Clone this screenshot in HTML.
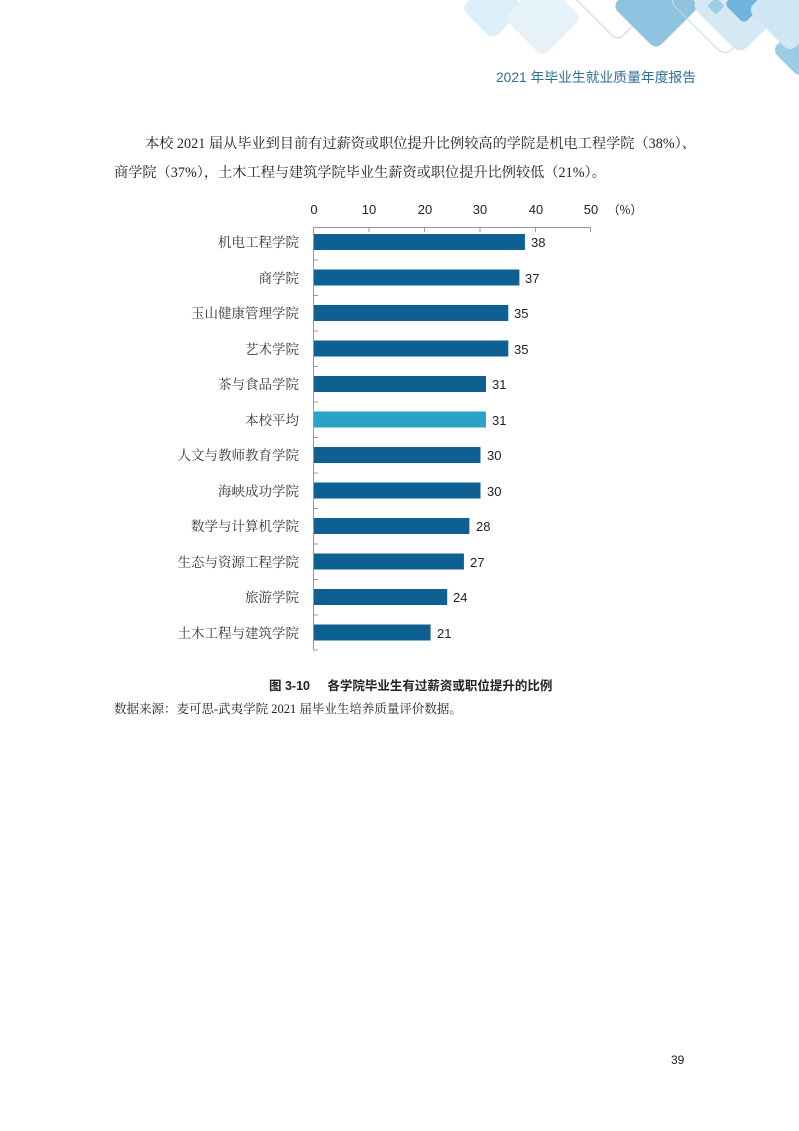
<!DOCTYPE html>
<html><head><meta charset="utf-8"><style>
html,body{margin:0;padding:0;background:#fff}
body{width:799px;height:1131px;position:relative;overflow:hidden;font-family:"Liberation Serif","Noto Serif CJK SC",serif;color:#222}
.t{position:absolute;white-space:nowrap}
</style></head><body>
<svg width="799" height="1131" style="position:absolute;left:0;top:0">
<g>
<rect x="470" y="-15" width="45" height="45" rx="8" fill="#dceef7" transform="rotate(45 492 8)"/>
<rect x="515" y="-10" width="55" height="55" rx="8" fill="#e6f2f9" transform="rotate(45 542 18)"/>
<rect x="580" y="-50" width="75" height="75" rx="8" fill="none" stroke="#c0d6e4" transform="rotate(45 617 -12)"/>
<rect x="625" y="-25" width="62" height="62" rx="8" fill="#8fc3e0" transform="rotate(45 656 6)"/>
<rect x="685" y="-40" width="80" height="80" rx="10" fill="none" stroke="#c6dbe8" transform="rotate(45 725 0)"/>
<rect x="705" y="-30" width="70" height="70" rx="10" fill="#d5e9f4" transform="rotate(45 740 5)"/>
<rect x="730" y="-10" width="28" height="28" rx="5" fill="#6fb4dc" transform="rotate(45 744 4)"/>
<rect x="710" y="0" width="12" height="12" rx="2" fill="#9fcde8" transform="rotate(45 716 6)"/>
<rect x="780" y="30" width="40" height="40" rx="8" fill="#9ccbe6" transform="rotate(45 800 50)"/>
<rect x="760" y="-20" width="60" height="60" rx="8" fill="#cfe6f3" transform="rotate(45 790 10)"/>
</g>
<g stroke="#999" stroke-width="1" fill="none">
<line x1="313.5" y1="227.5" x2="591" y2="227.5"/>
<line x1="313.5" y1="227" x2="313.5" y2="650"/>
<line x1="369" y1="227" x2="369" y2="232"/>
<line x1="424.5" y1="227" x2="424.5" y2="232"/>
<line x1="480" y1="227" x2="480" y2="232"/>
<line x1="535.5" y1="227" x2="535.5" y2="232"/>
<line x1="590.5" y1="227" x2="590.5" y2="232"/>
<line x1="313" y1="260" x2="318" y2="260"/><line x1="313" y1="295.5" x2="318" y2="295.5"/><line x1="313" y1="331" x2="318" y2="331"/><line x1="313" y1="366.5" x2="318" y2="366.5"/><line x1="313" y1="402" x2="318" y2="402"/><line x1="313" y1="437.5" x2="318" y2="437.5"/><line x1="313" y1="473" x2="318" y2="473"/><line x1="313" y1="508.5" x2="318" y2="508.5"/><line x1="313" y1="544" x2="318" y2="544"/><line x1="313" y1="579.5" x2="318" y2="579.5"/><line x1="313" y1="615" x2="318" y2="615"/><line x1="313" y1="650" x2="318" y2="650"/>
</g>
<g font-family="Liberation Sans, sans-serif" font-size="13" fill="#222" text-anchor="middle">
<text x="314" y="214">0</text><text x="369" y="214">10</text><text x="425" y="214">20</text><text x="480" y="214">30</text><text x="536" y="214">40</text><text x="591" y="214">50</text>
<text x="625" y="214" font-family="Noto Sans CJK SC, sans-serif" font-size="12">（%）</text>
</g>
<g fill="#0e5f92">
<rect x="314" y="234" width="210.9" height="16"/>
<rect x="314" y="269.5" width="205.4" height="16"/>
<rect x="314" y="305" width="194.3" height="16"/>
<rect x="314" y="340.5" width="194.3" height="16"/>
<rect x="314" y="376" width="172" height="16"/>
<rect x="314" y="411.5" width="172" height="16" fill="#2aa3c7"/>
<rect x="314" y="447" width="166.5" height="16"/>
<rect x="314" y="482.5" width="166.5" height="16"/>
<rect x="314" y="518" width="155.4" height="16"/>
<rect x="314" y="553.5" width="149.9" height="16"/>
<rect x="314" y="589" width="133.2" height="16"/>
<rect x="314" y="624.5" width="116.6" height="16"/>
</g>
<g font-family="Liberation Sans, sans-serif" font-size="13" fill="#222">
<text x="531" y="247">38</text><text x="525" y="283">37</text><text x="514" y="318">35</text><text x="514" y="354">35</text><text x="492" y="389">31</text><text x="492" y="425">31</text><text x="487" y="460">30</text><text x="487" y="496">30</text><text x="476" y="531">28</text><text x="470" y="567">27</text><text x="453" y="602">24</text><text x="437" y="638">21</text>
</g>
<g font-family="Liberation Serif, Noto Serif CJK SC, serif" font-size="13.5" fill="#333" text-anchor="end">
<text x="299" y="247">机电工程学院</text>
<text x="299" y="283">商学院</text>
<text x="299" y="318">玉山健康管理学院</text>
<text x="299" y="354">艺术学院</text>
<text x="299" y="389">茶与食品学院</text>
<text x="299" y="425">本校平均</text>
<text x="299" y="460">人文与教师教育学院</text>
<text x="299" y="496">海峡成功学院</text>
<text x="299" y="531">数学与计算机学院</text>
<text x="299" y="567">生态与资源工程学院</text>
<text x="299" y="602">旅游学院</text>
<text x="299" y="638">土木工程与建筑学院</text>
</g>
</svg>
<div class="t" style="left:496px;top:66px;font-size:13.8px;color:#2b6f95;font-family:'Liberation Sans','Noto Sans CJK SC',sans-serif">2021 年毕业生就业质量年度报告</div>
<div class="t" style="left:145px;top:133px;font-size:14.2px">本校 2021 届从毕业到目前有过薪资或职位提升比例较高的学院是机电工程学院（38%）、</div>
<div class="t" style="left:114px;top:162px;font-size:14.2px">商学院（37%），土木工程与建筑学院毕业生薪资或职位提升比例较低（21%）。</div>
<div class="t" style="left:269px;top:675px;font-size:12.5px;font-weight:bold;font-family:'Liberation Sans','Noto Sans CJK SC',sans-serif">图 3-10&nbsp;&nbsp;&nbsp;&nbsp;&nbsp;各学院毕业生有过薪资或职位提升的比例</div>
<div class="t" style="left:114px;top:699px;font-size:12.5px">数据来源：麦可思-武夷学院 2021 届毕业生培养质量评价数据。</div>
<div class="t" style="left:671px;top:1053px;font-size:12px;font-family:'Liberation Sans',sans-serif">39</div>
</body></html>
